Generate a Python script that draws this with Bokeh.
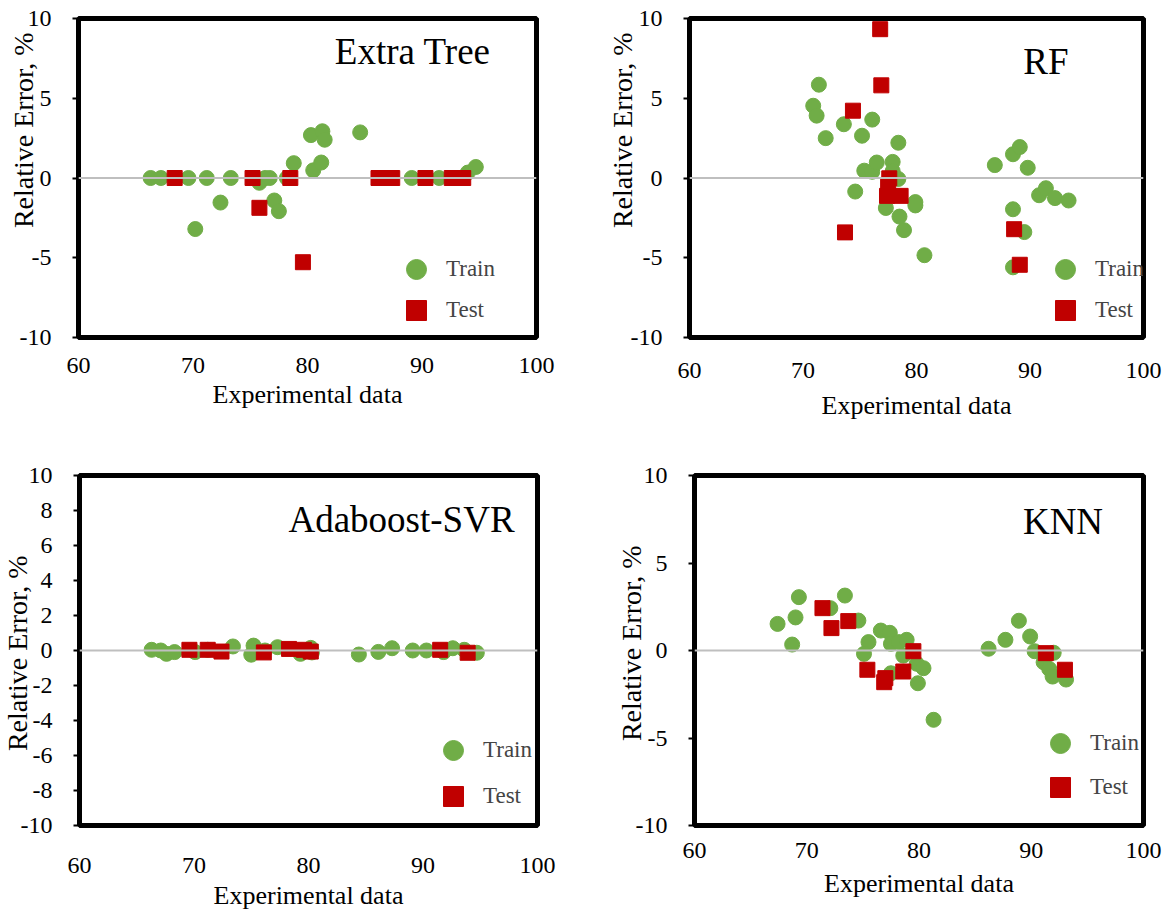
from bokeh.plotting import figure
from bokeh.layouts import column, row
from bokeh.models import Span, Legend, LegendItem, FixedTicker, Range1d, Label, Title
from bokeh.embed import file_html
from bokeh.resources import INLINE

GREEN = "#70AD47"
RED = "#C00000"
FONT = "Liberation Serif"

X_TICKS = [60, 70, 80, 90, 100]
Y_TICKS_5 = [-10, -5, 0, 5, 10]
Y_TICKS_2 = [-10, -8, -6, -4, -2, 0, 2, 4, 6, 8, 10]

# ---- Extra Tree ----
et_train_x = [66.3, 67.2, 69.6, 71.2, 73.3, 70.2, 72.4, 75.8, 76.3, 76.7, 77.1, 77.5, 78.2, 78.8,
              80.3, 81.3, 81.5, 80.5, 81.2, 84.6, 89.1, 91.5, 94.0, 94.7]
et_train_y = [0, 0, 0, 0, 0, -3.2, -1.54, -0.3, 0, 0, -1.41, -2.08, 0, 0.93,
              2.69, 2.93, 2.4, 0.48, 0.97, 2.86, 0, 0, 0.34, 0.69]
et_test_x = [68.4, 75.2, 75.8, 78.5, 79.6, 86.2, 87.4, 90.3, 92.6, 93.6]
et_test_y = [0, 0, -1.87, 0, -5.28, 0, 0, 0, 0, 0]

# ---- RF ----
rf_train_x = [71.4, 70.9, 71.2, 72.0, 73.6, 75.2, 76.1, 78.4, 74.6, 75.4, 76.1, 76.5, 77.9, 78.4,
              77.9, 77.3, 79.9, 79.9, 78.5, 78.9, 80.7, 86.9, 88.5, 89.1, 89.8, 88.5, 89.5, 88.5,
              90.8, 91.4, 92.2, 93.4]
rf_train_y = [5.85, 4.53, 3.91, 2.50, 3.37, 2.65, 3.66, 2.21, -0.85, 0.46, 0.39, 0.97, 1.01, -0.06,
              0.43, -1.88, -1.51, -1.72, -2.42, -3.27, -4.84, 0.81, 1.49, 1.94, 0.64, -1.96, -3.39, -5.6,
              -1.08, -0.64, -1.26, -1.41]
rf_test_x = [76.8, 76.9, 74.4, 73.7, 77.6, 77.5, 77.4, 78.6, 88.6, 89.1]
rf_test_y = [9.33, 5.81, 4.22, -3.41, -0.02, -0.54, -1.12, -1.12, -3.21, -5.44]

# ---- Adaboost-SVR ----
ab_train_x = [66.3, 67.1, 67.6, 68.3, 70.1, 71.2, 73.4, 75.0, 75.2, 76.2, 77.3, 79.3, 80.3, 80.2,
              84.4, 86.1, 87.3, 89.1, 90.3, 91.8, 92.6, 93.6, 94.7]
ab_train_y = [0.04, 0, -0.19, -0.09, -0.09, 0.04, 0.23, -0.24, 0.28, 0.0, 0.19, -0.19, -0.11, 0.15,
              -0.23, -0.08, 0.13, 0, 0, -0.09, 0.13, 0.04, -0.13]
ab_test_x = [69.6, 71.2, 72.4, 76.1, 78.3, 79.6, 80.2, 91.5, 93.9]
ab_test_y = [0.04, 0.04, -0.06, -0.11, 0.09, 0.04, -0.06, 0.04, -0.13]

# ---- KNN ----
knn_train_x = [67.4, 68.7, 69.0, 69.3, 72.1, 73.4, 74.6, 75.5, 75.1, 76.6, 77.4, 77.5, 78.2, 78.9,
               78.6, 77.5, 79.8, 80.4, 79.9, 81.3, 86.2, 87.7, 88.9, 89.9, 90.3, 92.0, 91.1, 91.6,
               91.9, 93.1]
knn_train_y = [1.52, 0.34, 1.89, 3.05, 2.42, 3.14, 1.71, 0.48, -0.19, 1.14, 1.01, 0.38, 0.48, 0.61,
               -0.29, -1.30, -0.76, -1.01, -1.87, -3.96, 0.10, 0.61, 1.70, 0.80, -0.04, -0.13, -0.67, -1.05,
               -1.49, -1.66]
knn_test_x = [71.4, 72.2, 73.7, 79.5, 75.4, 77.0, 76.9, 78.6, 91.3, 93.0]
knn_test_y = [2.42, 1.28, 1.68, -0.04, -1.10, -1.58, -1.81, -1.20, -0.15, -1.10]


def make_panel(title, title_pos, ylab_offset, ylab_standoff, train_x, train_y, test_x, test_y,
               yticks, borders, leg_x, leg_train_y, leg_test_y, x_standoff, xlab_standoff):
    ml, mr, mt, mb = borders
    p = figure(width=582, height=456, x_range=Range1d(60, 100), y_range=Range1d(-10, 10),
               output_backend="svg", toolbar_location=None,
               min_border_left=ml, min_border_right=mr, min_border_top=mt, min_border_bottom=mb)
    p.grid.visible = False
    p.outline_line_color = "black"
    p.outline_line_width = 5
    p.background_fill_color = "white"
    p.border_fill_color = "white"

    # axes
    p.xaxis.ticker = FixedTicker(ticks=X_TICKS)
    p.xaxis.axis_line_color = None
    p.xaxis.major_tick_out = 0
    p.xaxis.major_tick_in = 0
    p.xaxis.minor_tick_line_color = None
    p.xaxis.major_label_standoff = x_standoff
    p.xaxis.axis_label = "Experimental data"
    p.xaxis.axis_label_standoff = xlab_standoff
    p.xaxis.axis_label_text_font_size = "26px"

    p.yaxis.ticker = FixedTicker(ticks=yticks)
    p.yaxis.major_label_overrides = {t: str(t) for t in yticks}
    p.yaxis.axis_line_color = None
    p.yaxis.major_tick_out = 6
    p.yaxis.major_tick_in = 0
    p.yaxis.major_tick_line_width = 2
    p.yaxis.major_tick_line_color = "black"
    p.yaxis.minor_tick_line_color = None
    p.yaxis.major_label_standoff = 21

    for ax in (p.xaxis, p.yaxis):
        ax.major_label_text_font = FONT
        ax.major_label_text_font_size = "24px"
        ax.major_label_text_color = "black"
        ax.axis_label_text_font = FONT
        ax.axis_label_text_font_style = "normal"
        ax.axis_label_text_color = "black"

    # y-axis title as a side title; its top end sits ylab_offset px below the frame top
    ytitle = Title(text="Relative Error, %", align="right", vertical_align="bottom",
                   text_font=FONT, text_font_size="28px", text_font_style="normal",
                   text_color="black", offset=ylab_offset)
    try:
        ytitle.standoff = ylab_standoff
    except Exception:
        ytitle.standoff = 0
    p.add_layout(ytitle, "left")

    p.add_layout(Span(location=0, dimension="width", line_color="#BFBFBF", line_width=2))

    r_train = p.scatter(train_x, train_y, marker="circle", size=15,
                        fill_color=GREEN, line_color=GREEN)
    r_test = p.scatter(test_x, test_y, marker="square", size=15,
                       fill_color=RED, line_color=RED)

    p.add_layout(Label(x=title_pos[0], y=title_pos[1], text=title, text_font=FONT,
                       text_font_size="37px", text_align="right",
                       text_baseline="alphabetic", text_color="black"))

    for lab, rend, ly in (("Train", r_train, leg_train_y), ("Test", r_test, leg_test_y)):
        leg = Legend(items=[LegendItem(label=lab, renderers=[rend])],
                     location=(leg_x, ly), border_line_color=None, background_fill_alpha=0,
                     padding=0, margin=0, glyph_width=50, glyph_height=50, spacing=0,
                     label_standoff=5, label_text_font=FONT, label_text_font_size="23px",
                     label_text_baseline="middle")
        p.add_layout(leg)
    return p


p1 = make_panel("Extra Tree", (96.0, 7.9), 14, -44, et_train_x, et_train_y, et_test_x, et_test_y,
                Y_TICKS_5, (78, 46, 18, 119), 313, 43, 2, 20, 4)
p2 = make_panel("RF", (93.4, 7.3), 14, -20, rf_train_x, rf_train_y, rf_test_x, rf_test_y,
                Y_TICKS_5, (107, 21, 18, 119), 351, 43, 2, 25, 10)
p3 = make_panel("Adaboost-SVR", (98.0, 7.5), 80, -30, ab_train_x, ab_train_y, ab_test_x, ab_test_y,
                Y_TICKS_2, (79, 45, 19, 84), 349, 50, 4, 32, 5)
p4 = make_panel("KNN", (96.4, 7.4), 70, -28, knn_train_x, knn_train_y, knn_test_x, knn_test_y,
                Y_TICKS_5, (112, 21, 19, 84), 341, 57, 13, 17, 8)

layout = column(row(p1, p2), row(p3, p4))
open("out.html", "w").write(file_html(layout, INLINE))
